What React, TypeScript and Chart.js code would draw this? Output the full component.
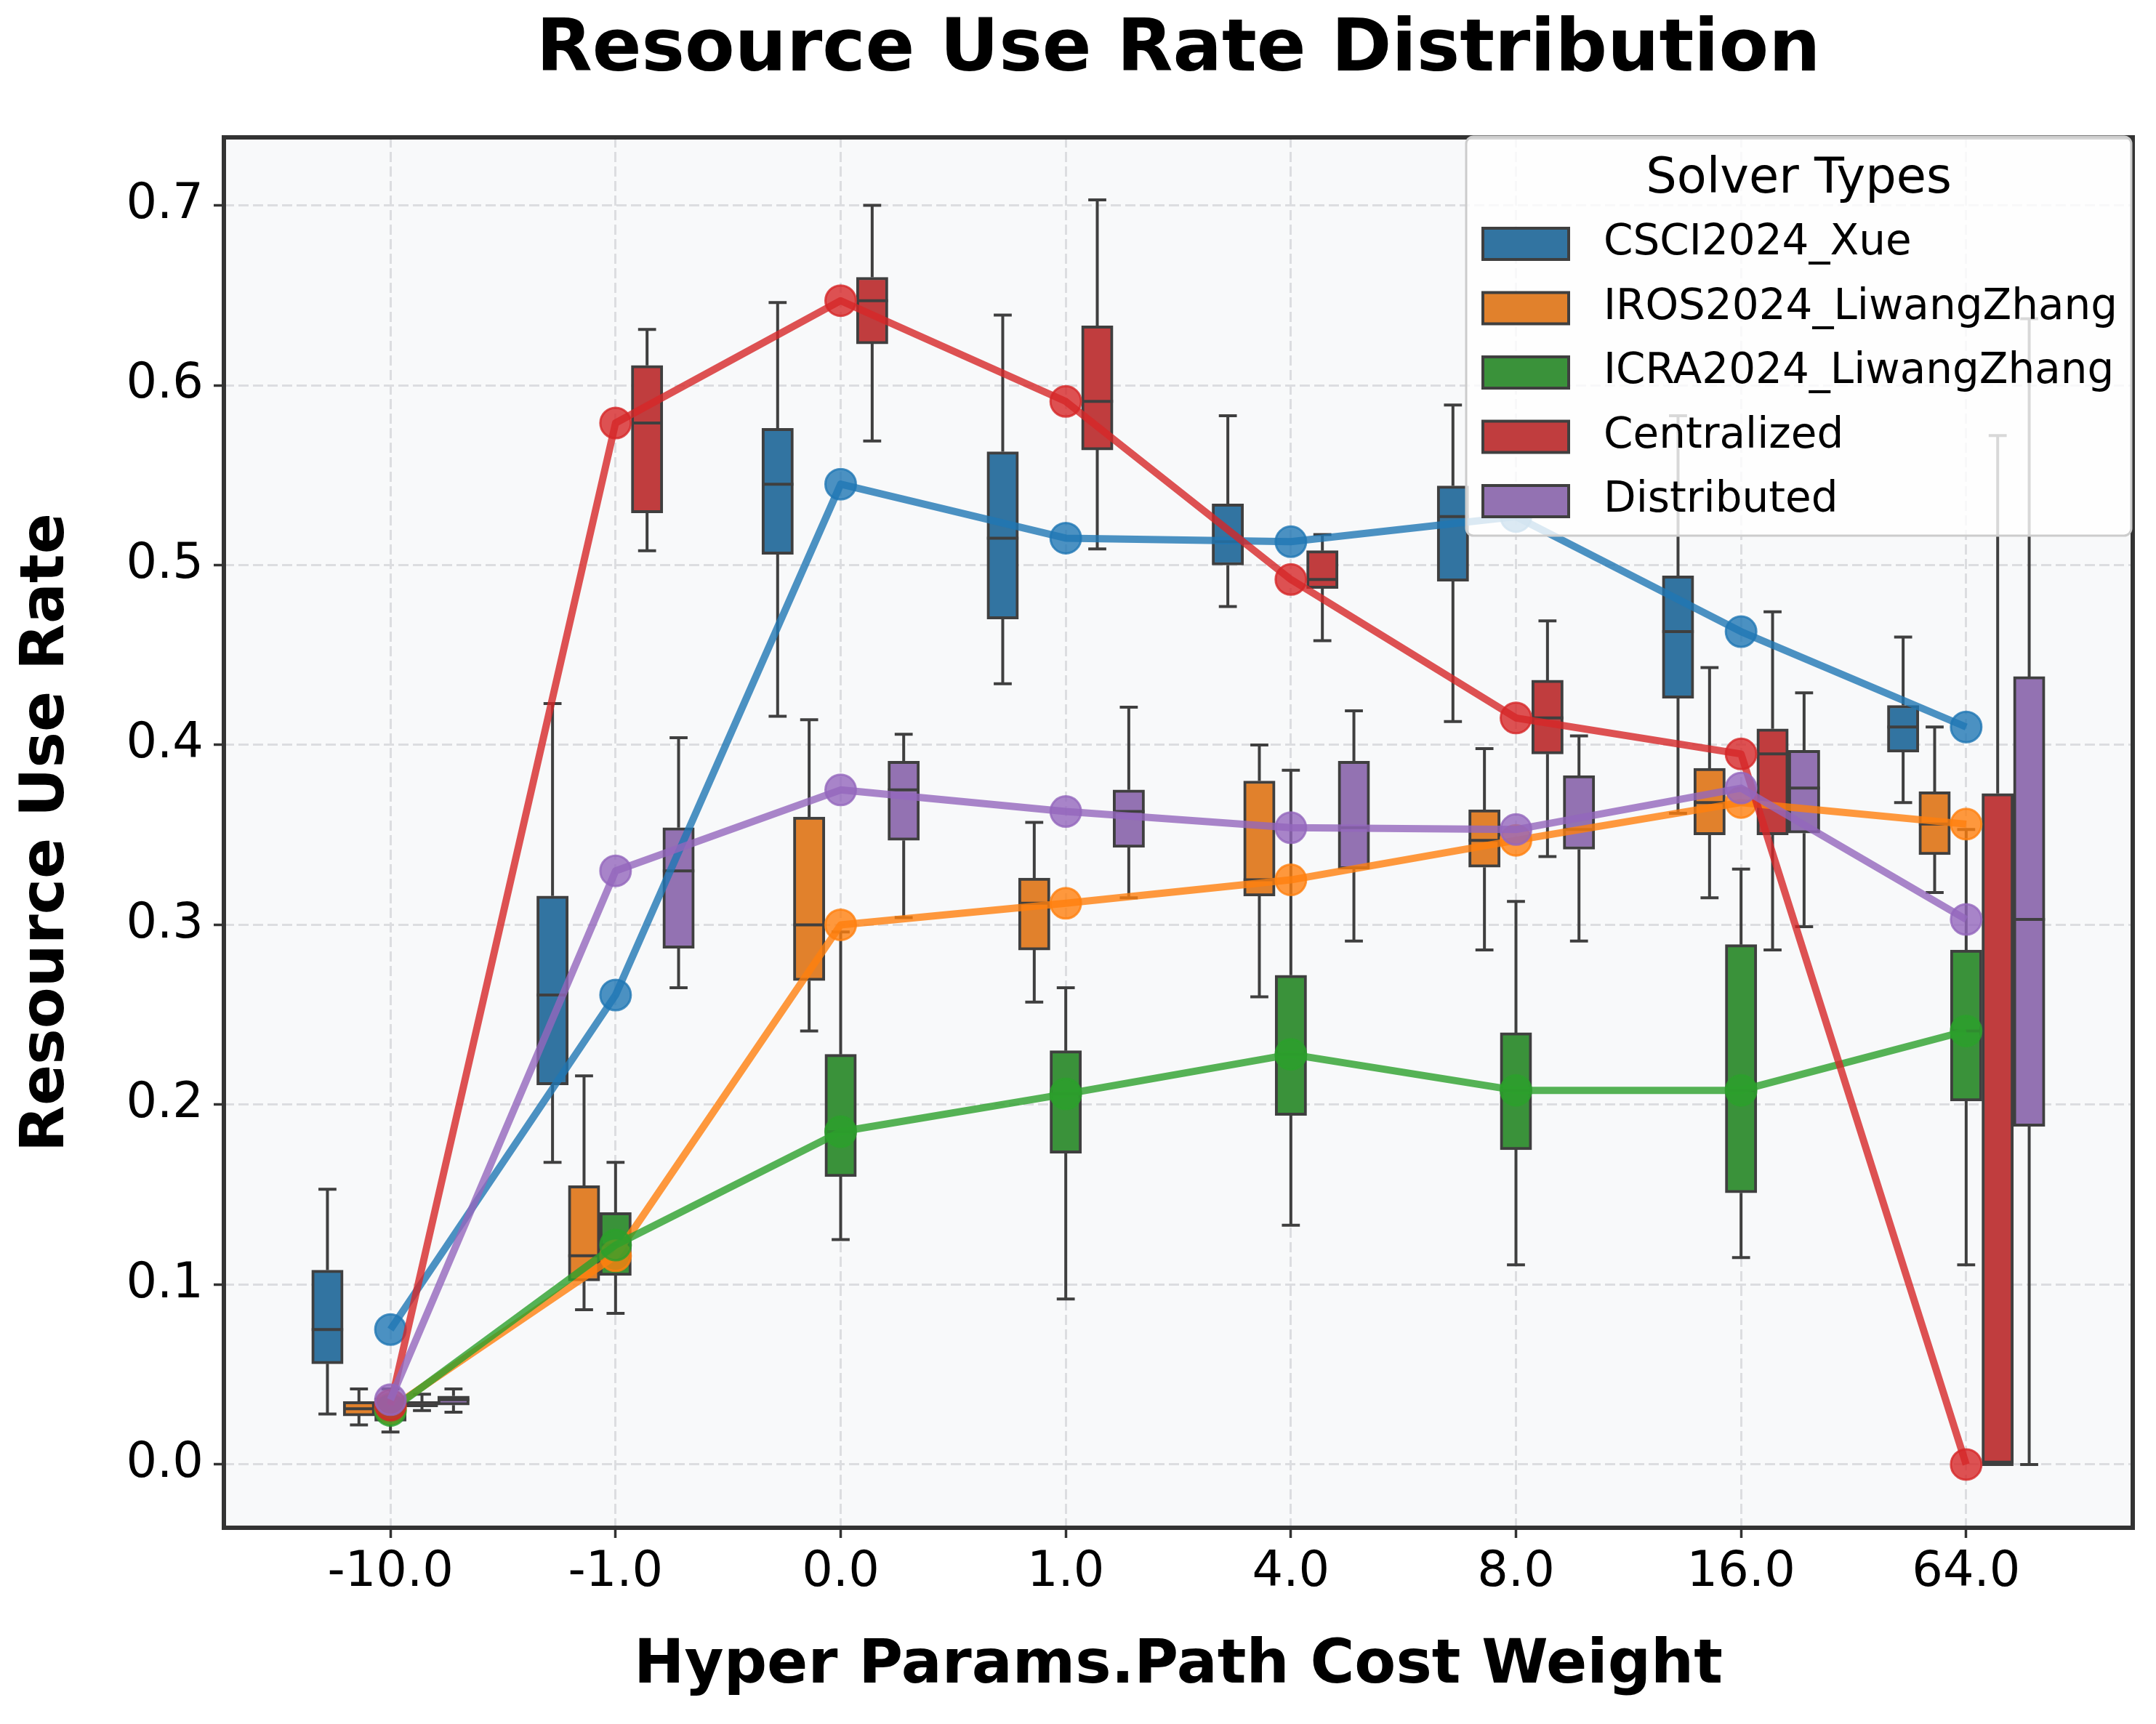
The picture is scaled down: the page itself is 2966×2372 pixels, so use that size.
import { useEffect, useRef } from 'react'
import { Chart, registerables } from 'chart.js'

Chart.register(...registerables)

const FONT = "'DejaVu Sans', sans-serif"

const categories = ['-10.0', '-1.0', '0.0', '1.0', '4.0', '8.0', '16.0', '64.0']
const solvers = ['CSCI2024_Xue', 'IROS2024_LiwangZhang', 'ICRA2024_LiwangZhang', 'Centralized', 'Distributed']
const yTicks = [0, 0.1, 0.2, 0.3, 0.4, 0.5, 0.6, 0.7]

// per category: [whisker low, q1, median, q3, whisker high]
const xueStats = [
  [0.028, 0.056, 0.075, 0.108, 0.153],
  [0.168, 0.211, 0.261, 0.316, 0.423],
  [0.416, 0.506, 0.545, 0.576, 0.646],
  [0.434, 0.470, 0.515, 0.563, 0.639],
  [0.477, 0.500, 0.513, 0.534, 0.583],
  [0.413, 0.491, 0.527, 0.544, 0.589],
  [0.362, 0.426, 0.463, 0.494, 0.583],
  [0.368, 0.396, 0.410, 0.422, 0.460],
]
const irosStats = [
  [0.022, 0.027, 0.031, 0.035, 0.042],
  [0.086, 0.102, 0.116, 0.155, 0.216],
  [0.241, 0.269, 0.300, 0.360, 0.414],
  [0.257, 0.286, 0.312, 0.326, 0.357],
  [0.260, 0.316, 0.325, 0.380, 0.400],
  [0.286, 0.332, 0.347, 0.364, 0.398],
  [0.315, 0.350, 0.368, 0.387, 0.443],
  [0.318, 0.339, 0.356, 0.374, 0.410],
]
const icraStats = [
  [0.018, 0.024, 0.030, 0.037, 0.042],
  [0.084, 0.105, 0.122, 0.140, 0.168],
  [0.125, 0.160, 0.185, 0.228, 0.296],
  [0.092, 0.173, 0.206, 0.230, 0.265],
  [0.133, 0.194, 0.228, 0.272, 0.386],
  [0.111, 0.175, 0.208, 0.240, 0.313],
  [0.115, 0.151, 0.208, 0.289, 0.331],
  [0.111, 0.202, 0.241, 0.286, 0.353],
]
const centralizedStats = [
  [0.030, 0.032, 0.033, 0.035, 0.039],
  [0.508, 0.529, 0.579, 0.611, 0.631],
  [0.569, 0.623, 0.647, 0.660, 0.700],
  [0.509, 0.564, 0.591, 0.633, 0.703],
  [0.458, 0.487, 0.492, 0.508, 0.517],
  [0.338, 0.395, 0.415, 0.436, 0.469],
  [0.286, 0.350, 0.395, 0.409, 0.474],
  [0.000, 0.000, 0.000, 0.373, 0.572],
]
const distributedStats = [
  [0.029, 0.033, 0.036, 0.038, 0.042],
  [0.265, 0.287, 0.330, 0.354, 0.404],
  [0.304, 0.347, 0.375, 0.391, 0.406],
  [0.315, 0.343, 0.363, 0.375, 0.421],
  [0.291, 0.331, 0.354, 0.391, 0.419],
  [0.291, 0.342, 0.353, 0.383, 0.405],
  [0.299, 0.351, 0.376, 0.397, 0.429],
  [0.000, 0.188, 0.303, 0.438, 0.637],
]

const statsBySolver = [xueStats, irosStats, icraStats, centralizedStats, distributedStats]
const boxColors = ['#3274a1', '#e1812c', '#3a923a', '#c03d3e', '#9372b2']
const lineColors = [
  'rgba(31,119,180,0.8)',
  'rgba(255,127,14,0.8)',
  'rgba(44,160,44,0.8)',
  'rgba(214,39,40,0.8)',
  'rgba(148,103,189,0.8)',
]
const EDGE = '#3f3f3f'
const offsets = [-0.28, -0.14, 0, 0.14, 0.28]
const BOX_HALF = 0.07
const CAP_HALF = 0.04

function whiskerPoints(stats: number[][], off: number) {
  const pts: { x: number; y: number | null }[] = []
  stats.forEach(([lo, q1, med, q3, hi], i) => {
    const x = i + off
    pts.push(
      { x, y: lo }, { x, y: q1 }, { x, y: null },
      { x, y: q3 }, { x, y: hi }, { x, y: null },
      { x: x - CAP_HALF, y: lo }, { x: x + CAP_HALF, y: lo }, { x, y: null },
      { x: x - CAP_HALF, y: hi }, { x: x + CAP_HALF, y: hi }, { x, y: null },
      { x: x - BOX_HALF, y: med }, { x: x + BOX_HALF, y: med }, { x, y: null },
    )
  })
  return pts
}

const framePlugin = {
  id: 'frame',
  beforeDraw(chart: any) {
    const { ctx, chartArea } = chart
    ctx.save()
    ctx.fillStyle = '#f8f9fa'
    ctx.fillRect(chartArea.left, chartArea.top, chartArea.right - chartArea.left, chartArea.bottom - chartArea.top)
    ctx.restore()
  },
  afterDatasetsDraw(chart: any) {
    const { ctx, chartArea } = chart
    ctx.save()
    ctx.strokeStyle = '#333333'
    ctx.lineWidth = 6
    ctx.strokeRect(chartArea.left, chartArea.top, chartArea.right - chartArea.left, chartArea.bottom - chartArea.top)
    ctx.restore()
  },
}

const legendPlugin = {
  id: 'solverLegend',
  afterDraw(chart: any) {
    const { ctx, chartArea } = chart
    const w = 915
    const h = 549
    const left = chartArea.right - 2 - w
    const top = chartArea.top - 1
    ctx.save()
    ctx.beginPath()
    ctx.roundRect(left, top, w, h, 10)
    ctx.fillStyle = 'rgba(255,255,255,0.8)'
    ctx.fill()
    ctx.strokeStyle = '#cccccc'
    ctx.lineWidth = 3
    ctx.stroke()

    ctx.fillStyle = '#000'
    ctx.textBaseline = 'middle'
    ctx.textAlign = 'center'
    ctx.font = `67px ${FONT}`
    ctx.fillText('Solver Types', left + w / 2, top + 60)

    ctx.textAlign = 'left'
    ctx.font = `58px ${FONT}`
    solvers.forEach((name, k) => {
      const cy = top + 147 + 88.5 * k
      ctx.fillStyle = boxColors[k]
      ctx.fillRect(left + 23, cy - 21, 118, 43)
      ctx.strokeStyle = EDGE
      ctx.lineWidth = 4
      ctx.strokeRect(left + 23, cy - 21, 118, 43)
      ctx.fillStyle = '#000'
      ctx.fillText(name, left + 189, cy)
    })
    ctx.restore()
  },
}

export default function App() {
  const chartRef = useRef<HTMLCanvasElement>(null)
  const chartInstance = useRef<Chart | null>(null)

  useEffect(() => {
    if (!chartRef.current) return
    if (chartInstance.current) chartInstance.current.destroy()
    const ctx = chartRef.current.getContext('2d')
    if (!ctx) return

    Chart.defaults.font.family = FONT
    Chart.defaults.color = '#000'

    const datasets: any[] = []

    // median trend lines (on top)
    statsBySolver.forEach((stats, s) => {
      datasets.push({
        type: 'line',
        label: solvers[s],
        data: stats.map((row, i) => ({ x: i, y: row[2] })),
        borderColor: lineColors[s],
        backgroundColor: lineColors[s],
        borderWidth: 10,
        borderJoinStyle: 'round',
        pointRadius: 21,
        pointBorderWidth: 3,
        pointBackgroundColor: lineColors[s],
        pointBorderColor: lineColors[s],
        tension: 0,
        fill: false,
        order: 4 - s,
      })
    })

    // whiskers, caps and medians
    statsBySolver.forEach((stats, s) => {
      datasets.push({
        type: 'line',
        label: solvers[s] + ' whiskers',
        data: whiskerPoints(stats, offsets[s]),
        borderColor: EDGE,
        borderWidth: 4,
        borderCapStyle: 'butt',
        pointRadius: 0,
        spanGaps: false,
        tension: 0,
        fill: false,
        order: 10,
      })
    })

    // boxes (q1..q3)
    statsBySolver.forEach((stats, s) => {
      datasets.push({
        type: 'bar',
        label: solvers[s] + ' box',
        data: stats.map((row, i) => ({ x: i + offsets[s], y: [row[1], row[3]] })),
        backgroundColor: boxColors[s],
        borderColor: EDGE,
        borderWidth: 4,
        borderSkipped: false,
        grouped: false,
        barPercentage: 1,
        categoryPercentage: 1,
        order: 20,
      })
    })

    const gridStyle = {
      color: '#dcdde0',
      lineWidth: 3,
      drawTicks: true,
      tickLength: 14,
      tickColor: '#333333',
      tickWidth: 3.5,
      tickBorderDash: [],
    }

    chartInstance.current = new Chart(ctx, {
      type: 'line',
      data: { datasets },
      options: {
        animation: false,
        responsive: true,
        maintainAspectRatio: false,
        events: [],
        layout: { padding: { top: 0, right: 18, bottom: 0, left: 0 } },
        plugins: {
          legend: { display: false },
          tooltip: { enabled: false },
          title: {
            display: true,
            fullSize: false,
            text: 'Resource Use Rate Distribution',
            color: '#000',
            font: { family: FONT, size: 100, weight: 'bold' },
            padding: { top: 3, bottom: 58 },
          },
        },
        scales: {
          x: {
            type: 'linear',
            min: -0.74,
            max: 7.74,
            offset: false,
            afterBuildTicks: (axis: any) => {
              axis.ticks = categories.map((_, i) => ({ value: i }))
            },
            afterFit: (axis: any) => {
              axis.height = 262
            },
            ticks: {
              callback: (v: any) => categories[Math.round(Number(v))] ?? '',
              font: { family: FONT, size: 67 },
              color: '#000',
              padding: 8,
              maxRotation: 0,
              autoSkip: false,
            },
            grid: { ...gridStyle, offset: false },
            border: { display: false, dash: [14, 6] },
            title: {
              display: true,
              text: 'Hyper Params.Path Cost Weight',
              color: '#000',
              font: { family: FONT, size: 83, weight: 'bold' },
              padding: { top: 0, bottom: 21 },
            },
          },
          y: {
            type: 'linear',
            min: -0.0352,
            max: 0.7378,
            afterBuildTicks: (axis: any) => {
              axis.ticks = yTicks.map(v => ({ value: v }))
            },
            afterFit: (axis: any) => {
              axis.width = 300
            },
            ticks: {
              callback: (v: any) => Number(v).toFixed(1),
              font: { family: FONT, size: 67 },
              color: '#000',
              padding: 14,
            },
            grid: gridStyle,
            border: { display: false, dash: [14, 6] },
            title: {
              display: true,
              text: 'Resource Use Rate',
              color: '#000',
              font: { family: FONT, size: 83, weight: 'bold' },
              padding: { top: 8, bottom: 0 },
            },
          },
        },
      } as any,
      plugins: [framePlugin, legendPlugin],
    })

    return () => {
      if (chartInstance.current) {
        chartInstance.current.destroy()
        chartInstance.current = null
      }
    }
  }, [])

  return (
    <div style={{ width: 2950, height: 2356, position: 'relative' }}>
      <canvas ref={chartRef} />
    </div>
  )
}
